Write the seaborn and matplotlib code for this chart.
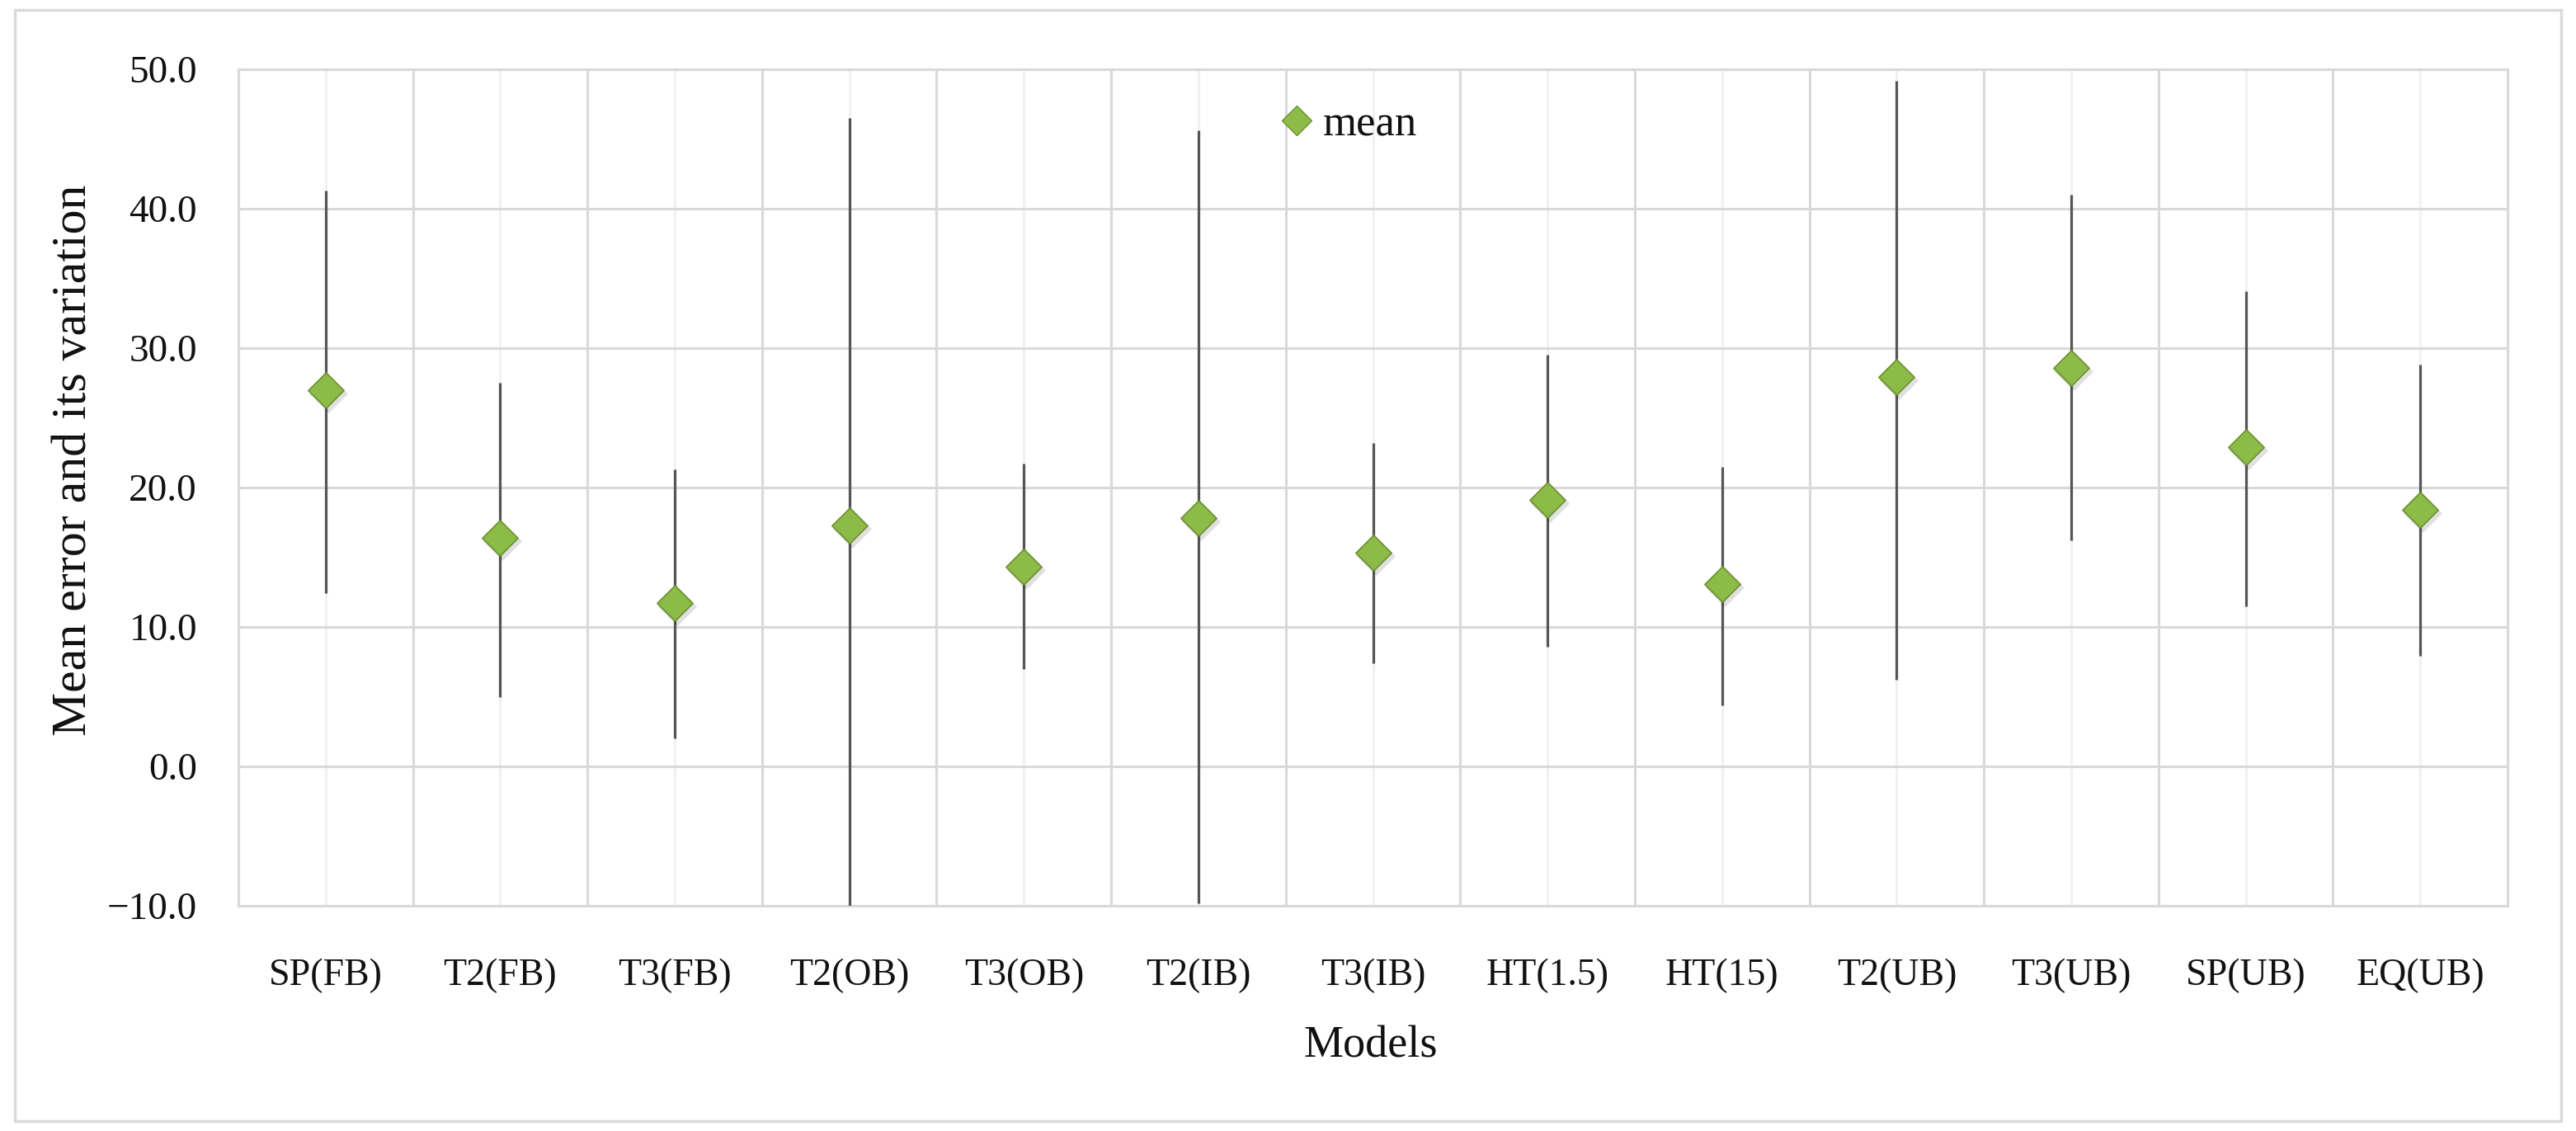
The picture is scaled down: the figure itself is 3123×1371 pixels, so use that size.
import numpy as np
import pandas as pd
import matplotlib
matplotlib.use("Agg")
import matplotlib.pyplot as plt
import seaborn as sns
from matplotlib.patches import Rectangle
from matplotlib.transforms import ScaledTranslation
from matplotlib.lines import Line2D
from matplotlib.ticker import FuncFormatter

# ---- data ----
models = ["SP(FB)", "T2(FB)", "T3(FB)", "T2(OB)", "T3(OB)", "T2(IB)", "T3(IB)",
          "HT(1.5)", "HT(15)", "T2(UB)", "T3(UB)", "SP(UB)", "EQ(UB)"]
mean_err = [27.0, 16.4, 11.7, 17.3, 14.3, 17.8, 15.3, 19.1, 13.1, 27.9, 28.6, 22.9, 18.4]
upper = [41.3, 27.5, 21.3, 46.5, 21.7, 45.6, 23.2, 29.5, 21.5, 49.2, 41.0, 34.1, 28.8]
lower = [12.4, 5.0, 2.0, -10.2, 7.0, -9.8, 7.4, 8.6, 4.4, 6.2, 16.2, 11.5, 7.9]
yticks = [-10, 0, 10, 20, 30, 40, 50]

df = pd.DataFrame({"model": models, "mean": mean_err, "lower": lower, "upper": upper})

sns.set_theme(style="white")
plt.rcParams["font.family"] = ["Liberation Serif", "DejaVu Serif"]
plt.rcParams["axes.unicode_minus"] = True

W, H = 3123, 1371
fig = plt.figure(figsize=(W / 100, H / 100), dpi=100)
ax = fig.add_axes([289 / W, 1 - 1098 / H, (3040 - 289) / W, (1098 - 84) / H])

green = "#8dbb48"
edge = "#6a9130"
grid_c = "#d9d9d9"
txt_c = "#111111"

# soft shadow under markers
shadow = ax.transData + ScaledTranslation(3 / 100, -4 / 100, fig.dpi_scale_trans)

sns.stripplot(data=df, x="model", y="mean", jitter=False, marker="D", size=22,
              color=green, edgecolor=edge, linewidth=1.2, zorder=6, ax=ax)

xpos = np.arange(len(df))
ax.vlines(xpos, df["lower"], df["upper"], color="#555555", lw=2.3, zorder=3)
ax.scatter(xpos, df["mean"], marker="D", s=24 ** 2, color="#000000", alpha=0.12,
           linewidths=0, zorder=4, transform=shadow)

n = len(models)
ax.set_xlim(-0.5, n - 0.5)
ax.set_ylim(-10, 50)
ax.set_yticks(yticks)
ax.yaxis.set_major_formatter(FuncFormatter(lambda v, p: f"{v:.1f}".replace("-", "\u2212")))
ax.set_xticks(xpos)
ax.set_xticklabels(models)
ax.set_xticks(np.arange(-0.5, n, 1), minor=True)

ax.grid(False)
ax.grid(which="minor", axis="x", color=grid_c, lw=2.2, zorder=0)
ax.grid(which="major", axis="x", color="#f1f1f1", lw=2.2, zorder=0)
ax.grid(which="major", axis="y", color=grid_c, lw=2.2, zorder=0)
ax.set_axisbelow(True)
for s in ax.spines.values():
    s.set_color(grid_c)
    s.set_linewidth(2.2)

ax.tick_params(axis="both", which="both", length=0, colors=txt_c)
ax.tick_params(axis="x", labelsize=33, pad=46)
ax.tick_params(axis="y", labelsize=34, pad=36)

ax.set_xlabel("")
ax.set_ylabel("")
fig.text(1662 / W, 1 - 1281 / H, "Models", fontsize=39, ha="center", va="baseline", color=txt_c)
fig.text(90 / W, 1 - 558 / H, "Mean error and its variation", fontsize=43, rotation=90,
         ha="center", va="center", color=txt_c)

handle = Line2D([], [], marker="D", linestyle="none", markersize=18,
                markerfacecolor=green, markeredgecolor=edge)
ax.legend(handles=[handle], labels=["mean"], loc="center", bbox_to_anchor=(0.4886, 0.933),
          frameon=False, fontsize=38, handletextpad=0.15, handlelength=0.9,
          labelcolor=txt_c)

fig.add_artist(Rectangle((18 / W, 12 / H), (3105 - 18) / W, (1359 - 12) / H,
                         transform=fig.transFigure, fill=False, edgecolor=grid_c, lw=2.5))

fig.savefig("out.png", dpi=100, facecolor="white")
